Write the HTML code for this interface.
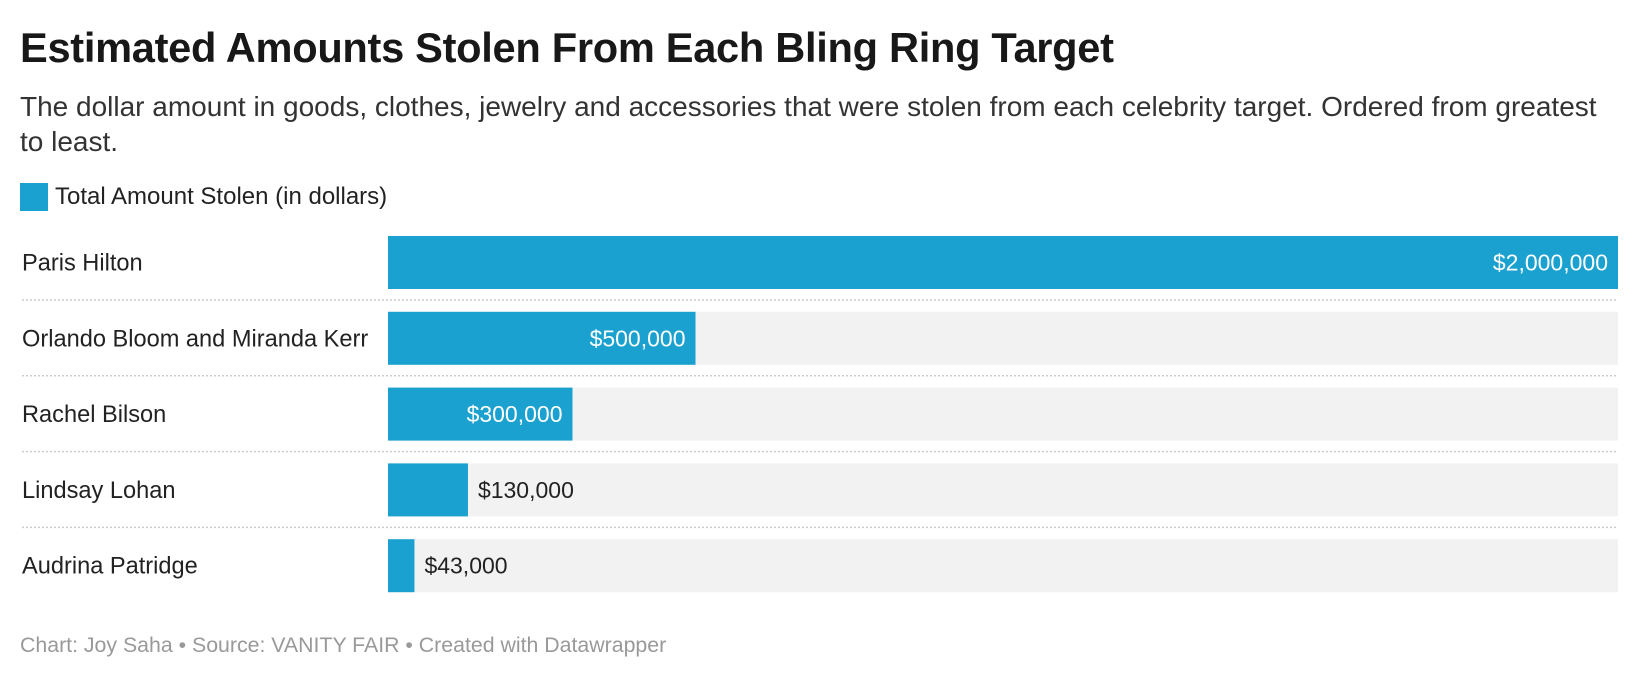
<!DOCTYPE html>
<html><head><meta charset="utf-8">
<style>
body{margin:0;width:1640px;height:680px;background:#fff;font-family:"Liberation Sans",sans-serif;overflow:hidden;position:relative}
.t{position:absolute;left:20px;top:24px;font-size:41.6px;font-weight:bold;color:#181818;letter-spacing:-0.3px}
.s{position:absolute;left:20px;top:89px;width:1590px;font-size:28px;line-height:35px;color:#333}
.lg{position:absolute;left:20px;top:183px;width:28px;height:28px;background:#1aa1cf}
.lt{position:absolute;left:55px;top:183px;font-size:24px;line-height:28px;color:#222}
.f{position:absolute;left:20px;top:633px;font-size:21.3px;color:#999}
</style></head><body>
<div class="t">Estimated Amounts Stolen From Each Bling Ring Target</div>
<div class="s">The dollar amount in goods, clothes, jewelry and accessories that were stolen from each celebrity target. Ordered from greatest to least.</div>
<div class="lg"></div>
<div class="lt">Total Amount Stolen (in dollars)</div>
<svg id="c" width="1640" height="680" style="position:absolute;left:0;top:0"></svg>
<div class="f">Chart: Joy Saha • Source: VANITY FAIR • Created with Datawrapper</div>
<script>
const categories=["Paris Hilton","Orlando Bloom and Miranda Kerr","Rachel Bilson","Lindsay Lohan","Audrina Patridge"];
const values=[2000000,500000,300000,130000,43000];
const valueLabels=["$2,000,000","$500,000","$300,000","$130,000","$43,000"];
const maxValue=2000000;
const svg=document.getElementById('c');
const NS='http://www.w3.org/2000/svg';
const x0=388,x1=1618,top0=236,step=75.8,bh=53;
const xs=v=>x0+(x1-x0)*v/maxValue;
function mk(t,a){const e=document.createElementNS(NS,t);for(const k in a)e.setAttribute(k,a[k]);svg.appendChild(e);return e;}
categories.forEach((c,i)=>{
 const y=top0+i*step;
 const bg=mk('rect',{x:x0,y:y,width:x1-x0,height:bh,fill:'#f2f2f2'});
 
 
 const w=xs(values[i])-x0;
 const b=mk('rect',{x:x0,y:y,width:w,height:bh,fill:'#1aa1cf'});
 
 
 const l=mk('text',{x:22,y:y+bh/2+8,'font-size':23.6,fill:'#222'});
 l.textContent=c;
 
 
 const inside=w>160;
 const v=mk('text',{x:inside?x0+w-10:x0+w+10,y:y+bh/2+8,'font-size':23,fill:inside?'#fff':'#222','text-anchor':inside?'end':'start'});
 v.textContent=valueLabels[i];
 
 
 if(i<categories.length-1){
  const s=mk('line',{x1:22,x2:1618,y1:y+bh+11,y2:y+bh+11,stroke:'#ccc','stroke-width':1.5,'stroke-dasharray':'2,2'});
  
  
 }
});
</script>
</body></html>
